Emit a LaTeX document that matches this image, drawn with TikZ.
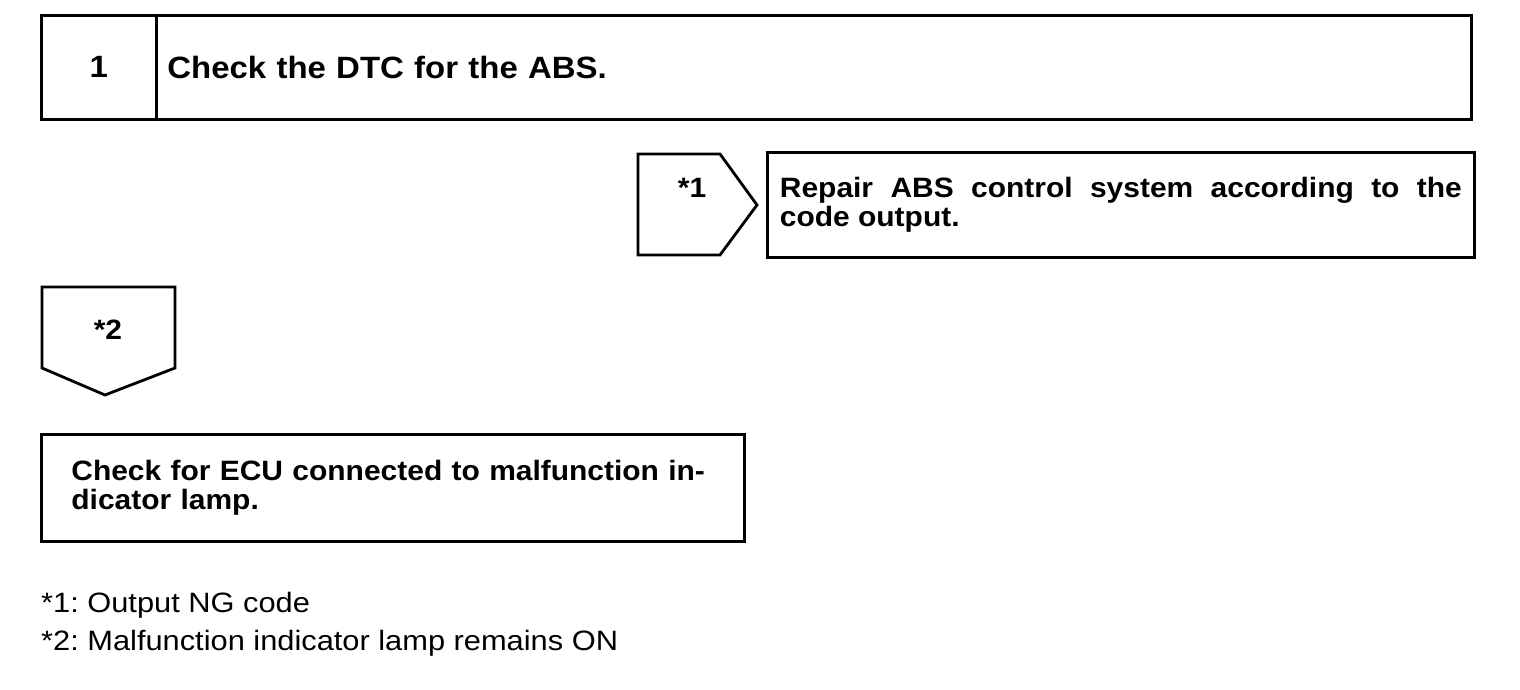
\documentclass[tikz,border=0pt]{standalone}
\usepackage{fontspec}
\setmainfont[FakeStretch=1.1,BoldFeatures={FakeStretch=1.07}]{Liberation Sans}
\begin{document}
\frenchspacing
\begin{tikzpicture}[x=1pt,y=-1pt,
  lw/.style={line width=2.8pt},
  box/.style={draw, lw, anchor=north west, inner ysep=0pt},
  bt/.style={font=\fontsize{28}{29}\selectfont\bfseries},
  ht/.style={font=\fontsize{30.8}{32}\selectfont\bfseries},
  lt/.style={font=\fontsize{28}{37}\selectfont}]
\useasboundingbox (0,0) rectangle (1520,690);
% step 1 header
\node[box, ht, minimum width=115pt, minimum height=104pt, inner xsep=0pt] (num) at (40,14) {1};
\node[box, ht, minimum height=104pt, text width=1293pt, inner xsep=11pt, align=left] (step) at (155,14) {Check the DTC for the ABS.};
% branch *1
\draw[lw, line join=miter] (638,154) -- (720,154) -- (757,205) -- (720,255) -- (638,255) -- cycle;
\node[bt] (b1) at (692,188) {*1};
\node[box, bt, minimum height=105pt, text width=682pt, inner xsep=12.5pt, align=justify] (repair) at (766,151) {Repair ABS control system according to the\linebreak code output.};
% branch *2
\draw[lw, line join=miter] (42,287) -- (175,287) -- (175,368) -- (105,395) -- (42,368) -- cycle;
\node[bt] (b2) at (108,330) {*2};
\node[box, bt, minimum height=107pt, text width=643pt, inner xsep=30pt, align=left] (ecu) at (40,433) {Check for ECU connected to malfunction in-\\dicator lamp.};
% legend
\node[lt, anchor=base west, inner sep=0pt] (l1) at (41,612) {*1: Output NG code};
\node[lt, anchor=base west, inner sep=0pt] (l2) at (41,650) {*2: Malfunction indicator lamp remains ON};
\end{tikzpicture}
\end{document}
